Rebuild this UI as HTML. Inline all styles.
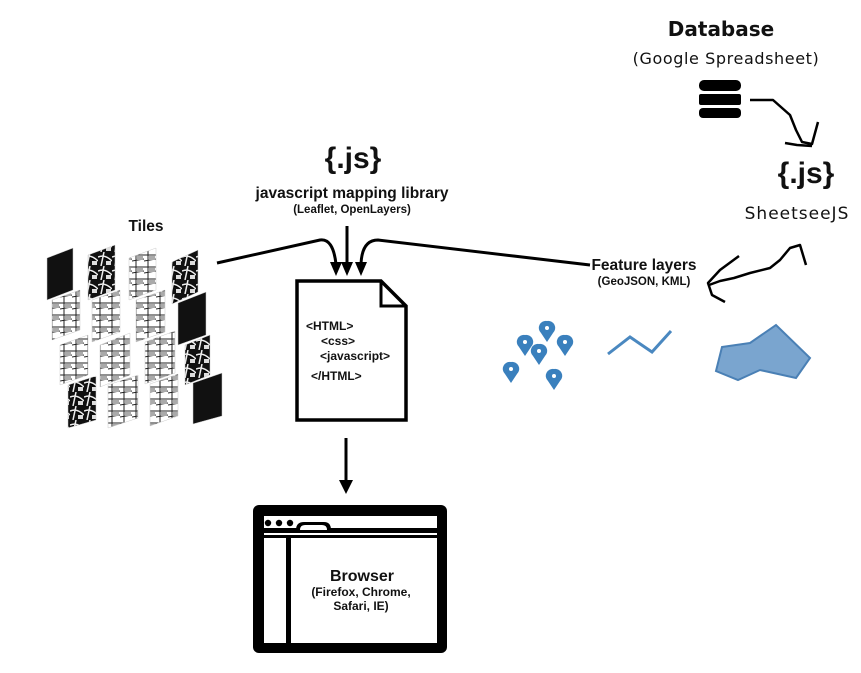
<!DOCTYPE html>
<html><head><meta charset="utf-8"><style>
body{margin:0;background:#fff;}
svg{display:block}
.a{font-family:"Liberation Sans",sans-serif;font-weight:bold;fill:#111}
.c{font-family:"DejaVu Sans","Liberation Sans",sans-serif;fill:#111}
</style></head><body>
<svg width="861" height="673" viewBox="0 0 861 673" xmlns="http://www.w3.org/2000/svg">
<defs>
<pattern id="p1" width="12" height="12" patternUnits="userSpaceOnUse">
<rect width="12" height="12" fill="#fff"/><path d="M0 3H12M4 0V12M0 9L12 7" stroke="#222" stroke-width="1"/><rect x="5" y="4" width="6" height="4" fill="#aaa"/>
</pattern>
<pattern id="p2" width="14" height="14" patternUnits="userSpaceOnUse">
<rect width="14" height="14" fill="#111"/><path d="M0 5Q7 2 14 9M6 0L3 14" stroke="#eee" stroke-width="1.5"/><rect x="8" y="9" width="5" height="4" fill="#ddd"/>
</pattern>
</defs>
<text x="146" y="231" class="a" font-size="15.5" text-anchor="middle">Tiles</text>
<g stroke="#ccc" stroke-width="0.5">
<polygon points="47,258 73,248 73,290 47,300" fill="#111"/>
<polygon points="88,255 115,245 115,290 88,300" fill="url(#p2)"/>
<polygon points="129,258 156,248 156,290 129,300" fill="url(#p1)"/>
<polygon points="172,262 198,250 198,292 172,304" fill="url(#p2)"/>
<polygon points="52,300 80,290 80,330 52,340" fill="url(#p1)"/>
<polygon points="92,300 120,290 120,332 92,342" fill="url(#p1)"/>
<polygon points="136,300 165,290 165,332 136,342" fill="url(#p1)"/>
<polygon points="178,303 206,292 206,335 178,345" fill="#111"/>
<polygon points="60,345 88,335 88,375 60,385" fill="url(#p1)"/>
<polygon points="100,345 130,333 130,375 100,387" fill="url(#p1)"/>
<polygon points="145,342 175,331 175,373 145,384" fill="url(#p1)"/>
<polygon points="185,345 210,335 210,375 185,385" fill="url(#p2)"/>
<polygon points="68,385 96,376 96,420 68,428" fill="url(#p2)"/>
<polygon points="108,385 138,375 138,418 108,428" fill="url(#p1)"/>
<polygon points="150,384 178,374 178,416 150,426" fill="url(#p1)"/>
<polygon points="193,383 222,373 222,416 193,424" fill="#111"/>
</g>
<text x="353" y="168" class="a" font-size="30" text-anchor="middle">{.js}</text>
<text x="352" y="198" class="a" font-size="15.5" text-anchor="middle">javascript mapping library</text>
<text x="352" y="213" class="a" font-size="11.5" text-anchor="middle">(Leaflet, OpenLayers)</text>
<g fill="none" stroke="#000" stroke-width="3">
<path d="M217 263 L320 240 Q333 238 336 264"/>
<path d="M347 226 L347 264"/>
<path d="M590 265 L378 240 Q362 240 361 264"/>
<path d="M346 438 L346 482"/>
</g>
<g fill="#000">
<polygon points="330,262 342,262 336,276"/>
<polygon points="341,262 353,262 347,276"/>
<polygon points="355,262 367,262 361,276"/>
<polygon points="339,480 353,480 346,494"/>
</g>
<path d="M297 281 L381 281 L406 306 L406 420 L297 420 Z" fill="#fff" stroke="#000" stroke-width="3.5"/>
<path d="M381 281 L381 306 L406 306" fill="none" stroke="#000" stroke-width="3"/>
<g class="a" font-size="12">
<text x="306" y="330">&lt;HTML&gt;</text>
<text x="321" y="345">&lt;css&gt;</text>
<text x="320" y="360">&lt;javascript&gt;</text>
<text x="311" y="380">&lt;/HTML&gt;</text>
</g>
<rect x="253" y="505" width="194" height="148" rx="6" fill="#000"/>
<rect x="264" y="516" width="173" height="127" fill="#fff"/>
<rect x="264" y="528" width="173" height="5" fill="#000"/>
<path d="M296 530 Q296 522 304 522 L324 522 Q331 522 331 530 Z" fill="#000"/>
<path d="M300 530 Q300 525 305 525 L322 525 Q327 525 327 530 Z" fill="#fff"/>
<circle cx="268" cy="523" r="3.2" fill="#000"/><circle cx="279" cy="523" r="3.2" fill="#000"/><circle cx="290" cy="523" r="3.2" fill="#000"/>
<rect x="264" y="535" width="173" height="3" fill="#000"/>
<rect x="286" y="537" width="5" height="106" fill="#000"/>
<text x="362" y="581" class="a" font-size="16" text-anchor="middle">Browser</text>
<text x="361" y="596" class="a" font-size="12" text-anchor="middle">(Firefox, Chrome,</text>
<text x="361" y="610" class="a" font-size="12" text-anchor="middle">Safari, IE)</text>
<text x="721" y="36" class="c" font-size="20" font-weight="bold" text-anchor="middle">Database</text>
<text x="726" y="64" class="c" font-size="16" letter-spacing="0.6" text-anchor="middle">(Google Spreadsheet)</text>
<rect x="699" y="80" width="42" height="11" rx="5" fill="#000"/>
<rect x="699" y="94" width="42" height="11" rx="2" fill="#000"/>
<rect x="699" y="108" width="42" height="10" rx="4" fill="#000"/>
<g fill="none" stroke="#000" stroke-width="2.5" stroke-linejoin="round">
<path d="M750 100 L773 100 L790 115 L796 130 L802 142 L812 144 L818 122"/>
<path d="M785 143 L797 145 L812 146"/>
<path d="M806 265 L800 245 L790 248 L780 260 L770 268 L750 273 L734 278 L720 281 L709 285"/>
<path d="M739 256 L720 270 L708 283 L712 295 L725 302"/>
</g>
<text x="806" y="183" class="a" font-size="30" text-anchor="middle">{.js}</text>
<text x="797" y="219" class="c" font-size="17" letter-spacing="1" text-anchor="middle">SheetseeJS</text>
<text x="644" y="270" class="a" font-size="15.5" text-anchor="middle">Feature layers</text>
<text x="644" y="285" class="a" font-size="11.5" text-anchor="middle">(GeoJSON, KML)</text>
<g fill="#3a80bd">
<g transform="translate(547,330)"><path d="M0 -9 A7 7 0 0 1 6 3 L0 12 L-6 3 A7 7 0 0 1 0 -9Z"/><circle cx="0" cy="-2" r="2" fill="#fff"/></g>
<g transform="translate(525,344)"><path d="M0 -9 A7 7 0 0 1 6 3 L0 12 L-6 3 A7 7 0 0 1 0 -9Z"/><circle cx="0" cy="-2" r="2" fill="#fff"/></g>
<g transform="translate(565,344)"><path d="M0 -9 A7 7 0 0 1 6 3 L0 12 L-6 3 A7 7 0 0 1 0 -9Z"/><circle cx="0" cy="-2" r="2" fill="#fff"/></g>
<g transform="translate(539,353)"><path d="M0 -9 A7 7 0 0 1 6 3 L0 12 L-6 3 A7 7 0 0 1 0 -9Z"/><circle cx="0" cy="-2" r="2" fill="#fff"/></g>
<g transform="translate(511,371)"><path d="M0 -9 A7 7 0 0 1 6 3 L0 12 L-6 3 A7 7 0 0 1 0 -9Z"/><circle cx="0" cy="-2" r="2" fill="#fff"/></g>
<g transform="translate(554,378)"><path d="M0 -9 A7 7 0 0 1 6 3 L0 12 L-6 3 A7 7 0 0 1 0 -9Z"/><circle cx="0" cy="-2" r="2" fill="#fff"/></g>
</g>
<path d="M608 354 L630 337 L652 352 L671 331" fill="none" stroke="#4a88c0" stroke-width="3"/>
<polygon points="722,347 750,343 776,325 810,358 796,378 760,370 738,380 716,371" fill="#7aa5cf" stroke="#4a80b5" stroke-width="2"/>
</svg>
</body></html>
